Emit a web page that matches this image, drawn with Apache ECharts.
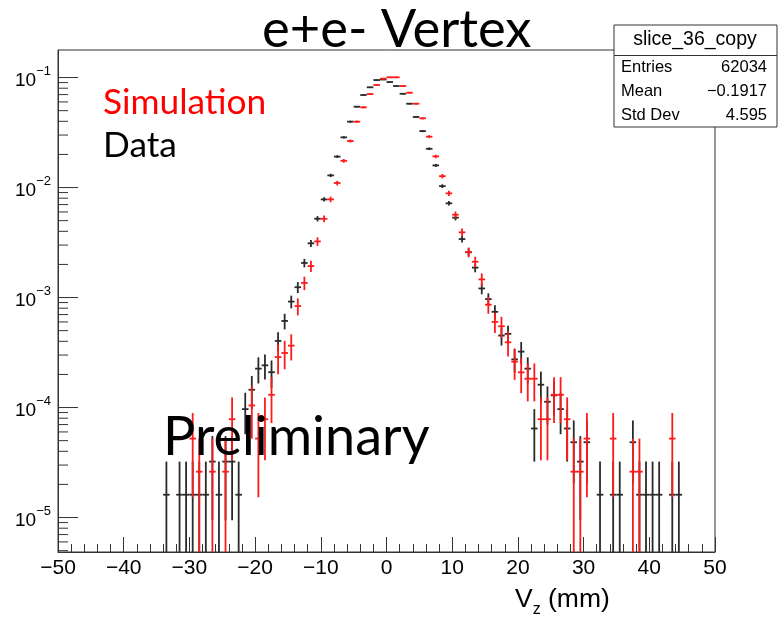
<!DOCTYPE html>
<html>
<head>
<meta charset="utf-8">
<script src="https://cdn.jsdelivr.net/npm/echarts@6/dist/echarts.min.js"></script>
<style>
html, body { margin: 0; padding: 0; background: #fff; }
#chart { width: 782px; height: 627px; }
</style>
</head>
<body>
<div id="chart"></div>
<script>
// non-empty bins of the data histogram: bin centre (mm) and raw entries
const dataBins = [-33.5, -31.5, -30.5, -29.5, -28.5, -27.5, -26.5, -25.5, -24.5, -23.5, -22.5, -21.5, -20.5, -19.5, -18.5, -17.5, -16.5, -15.5, -14.5, -13.5, -12.5, -11.5, -10.5, -9.5, -8.5, -7.5, -6.5, -5.5, -4.5, -3.5, -2.5, -1.5, -0.5, 0.5, 1.5, 2.5, 3.5, 4.5, 5.5, 6.5, 7.5, 8.5, 9.5, 10.5, 11.5, 12.5, 13.5, 14.5, 15.5, 16.5, 17.5, 18.5, 19.5, 20.5, 21.5, 22.5, 23.5, 24.5, 25.5, 26.5, 27.5, 28.5, 29.5, 30.5, 32.5, 34.5, 35.5, 37.5, 38.5, 39.5, 40.5, 41.5, 43.5, 44.5];
const dataCounts = [1, 1, 1, 1, 1, 1, 2, 1, 2, 2, 1, 6, 9, 14, 15, 13, 25, 38, 57, 77, 128, 193, 323, 484, 800, 1185, 1774, 2463, 3368, 4305, 5056, 5887, 5955, 5645, 5192, 4417, 3586, 2717, 2022, 1396, 986, 639, 446, 330, 211, 160, 116, 75, 60, 46, 28, 29, 17, 20, 14, 4, 10, 7, 8, 6, 4, 3, 2, 3, 1, 1, 1, 3, 1, 1, 1, 1, 1, 1];

// same for the simulation
const simBins = [-29.5, -28.5, -26.5, -24.5, -23.5, -20.5, -19.5, -18.5, -17.5, -16.5, -15.5, -14.5, -13.5, -12.5, -11.5, -10.5, -9.5, -8.5, -7.5, -6.5, -5.5, -4.5, -3.5, -2.5, -1.5, -0.5, 0.5, 1.5, 2.5, 3.5, 4.5, 5.5, 6.5, 7.5, 8.5, 9.5, 10.5, 11.5, 12.5, 13.5, 14.5, 15.5, 16.5, 17.5, 18.5, 19.5, 20.5, 21.5, 22.5, 23.5, 24.5, 25.5, 26.5, 27.5, 28.5, 29.5, 30.5, 34.5, 37.5, 38.5, 43.5];
const simCounts = [2, 1, 1, 1, 3, 4, 2, 3, 5, 11, 12, 14, 32, 52, 74, 124, 199, 299, 421, 670, 1015, 1520, 2053, 2712, 3278, 3738, 3849, 3849, 3206, 2788, 2214, 1632, 1111, 735, 486, 339, 217, 150, 99, 81, 56, 33, 23, 21, 15, 10, 8, 7, 7, 3, 3, 5, 5, 3, 1, 1, 2, 2, 1, 1, 2];

const dataEntries = 62034;
const simEntries = 38300;

const statsLabels = ['Entries', 'Mean', 'Std Dev'];
const statsValues = ['62034', '\u22120.1917', '4.595'];

const X_MIN = -50, X_MAX = 50;
const Y_MIN = 4.86e-6, Y_MAX = 0.178;
const yDecades = [-6, -5, -4, -3, -2, -1];

// normalised content with sqrt(N) errors, like ROOT draws it
function toPoints(bins, counts, total) {
    return bins.map((b, i) => {
        const v = counts[i] / total;
        const e = Math.sqrt(counts[i]) / total;
        return [b, v, v - e, v + e];
    });
}

function errorBars(color) {
    return function (params, api) {
        const x = api.value(0), v = api.value(1);
        const lo = Math.max(api.value(2), Y_MIN), hi = api.value(3);
        const a = api.coord([x - 0.5, v]), b = api.coord([x + 0.5, v]);
        const t = api.coord([x, hi]), d = api.coord([x, lo]);
        const style = { stroke: color, lineWidth: 1.8 };
        return {
            type: 'group',
            children: [
                { type: 'line', shape: { x1: a[0], y1: a[1], x2: b[0], y2: b[1] }, style: style },
                { type: 'line', shape: { x1: t[0], y1: t[1], x2: d[0], y2: d[1] }, style: style }
            ]
        };
    };
}

// log axis ticks at 1..9 x 10^n, the decade ones longer
const yTicks = [];
yDecades.forEach(e => {
    for (let m = 1; m <= 9; m++) {
        const v = m * Math.pow(10, e);
        if (v >= Y_MIN && v <= Y_MAX) yTicks.push([X_MIN, v, m === 1 ? 1 : 0]);
    }
});

const font = 'Liberation Sans';
const option = {
    animation: false,
    backgroundColor: '#fff',
    grid: {
        left: 58, right: 67, top: 50, bottom: 75,
        show: true, borderColor: '#333', borderWidth: 1,
        outerBoundsMode: 'none'
    },
    xAxis: {
        type: 'value',
        min: X_MIN, max: X_MAX, interval: 10,
        axisLine: { show: true, onZero: false, lineStyle: { color: '#333', width: 1 } },
        axisTick: { show: true, inside: true, length: 15, lineStyle: { color: '#333' } },
        minorTick: { show: true, splitNumber: 5, length: 8, lineStyle: { color: '#333' } },
        splitLine: { show: false },
        axisLabel: {
            margin: 6, fontSize: 21, fontFamily: font, color: '#000',
            formatter: v => v < 0 ? '\u2212' + (-v) : String(v)
        }
    },
    yAxis: {
        type: 'log',
        min: Y_MIN, max: Y_MAX,
        axisLine: { show: true, onZero: false, lineStyle: { color: '#333', width: 1 } },
        axisTick: { show: false },
        splitLine: { show: false },
        axisLabel: {
            margin: 7,
            formatter: function (val) {
                const l = Math.log10(val), e = Math.round(l);
                if (Math.abs(l - e) > 1e-6) return '';
                return '{b|10}{s|\u2212' + (-e) + '}';
            },
            rich: {
                b: { fontSize: 19, fontFamily: font, color: '#000', verticalAlign: 'bottom', lineHeight: 26 },
                s: { fontSize: 13, fontFamily: font, color: '#000', verticalAlign: 'top', lineHeight: 26 }
            }
        }
    },
    series: [
        {
            name: 'ticks', type: 'custom', silent: true, clip: false,
            data: yTicks,
            renderItem: function (params, api) {
                const p = api.coord([api.value(0), api.value(1)]);
                const len = api.value(2) ? 20 : 10;
                return {
                    type: 'line',
                    shape: { x1: p[0], y1: p[1], x2: p[0] + len, y2: p[1] },
                    style: { stroke: '#333', lineWidth: 1 }
                };
            }
        },
        {
            name: 'Data', type: 'custom', clip: true,
            data: toPoints(dataBins, dataCounts, dataEntries),
            renderItem: errorBars('#2a2a2a')
        },
        {
            name: 'Simulation', type: 'custom', clip: true,
            data: toPoints(simBins, simCounts, simEntries),
            renderItem: errorBars('#ff1a1a')
        }
    ],
    graphic: [
        {
            type: 'text', left: 262, top: 4, z: 10,
            style: { text: 'e+e- Vertex', fontFamily: 'Lato', fontSize: 52.5, fill: '#000' }
        },
        {
            type: 'text', left: 103, top: 85, z: 10,
            style: { text: 'Simulation', fontFamily: 'Lato', fontSize: 35.3, fill: '#ff0000' }
        },
        {
            type: 'text', left: 103, top: 128, z: 10,
            style: { text: 'Data', fontFamily: 'Lato', fontSize: 35.3, fill: '#000' }
        },
        {
            type: 'text', left: 163, top: 411, z: 10,
            style: { text: 'Preliminary', fontFamily: 'Lato', fontSize: 54, fill: '#000' }
        },
        {
            type: 'text', left: 515, top: 586, z: 10,
            style: {
                text: '{a|V}{s|z}{a| (mm)}',
                rich: {
                    a: { fontSize: 26.5, fontFamily: font, fill: '#000', verticalAlign: 'top', lineHeight: 32 },
                    s: { fontSize: 16, fontFamily: font, fill: '#000', verticalAlign: 'bottom', lineHeight: 32 }
                }
            }
        },
        {
            type: 'group', z: 20,
            children: [
                { type: 'rect', shape: { x: 614, y: 25, width: 163, height: 102 }, style: { fill: '#fff', stroke: '#333', lineWidth: 1 } },
                { type: 'line', shape: { x1: 614, y1: 55.5, x2: 777, y2: 55.5 }, style: { stroke: '#333', lineWidth: 1 } },
                { type: 'text', x: 695, y: 40, style: { text: 'slice_36_copy', fontFamily: font, fontSize: 19.5, fill: '#000', align: 'center', verticalAlign: 'middle' } }
            ].concat(statsLabels.map((s, i) => ({
                type: 'text', x: 621, y: 67 + i * 24,
                style: { text: s, fontFamily: font, fontSize: 16.5, fill: '#000', align: 'left', verticalAlign: 'middle' }
            }))).concat(statsValues.map((s, i) => ({
                type: 'text', x: 767, y: 67 + i * 24,
                style: { text: s, fontFamily: font, fontSize: 16.5, fill: '#000', align: 'right', verticalAlign: 'middle' }
            })))
        }
    ]
};

const chart = echarts.init(document.getElementById('chart'));
chart.setOption(option);
</script>
</body>
</html>
